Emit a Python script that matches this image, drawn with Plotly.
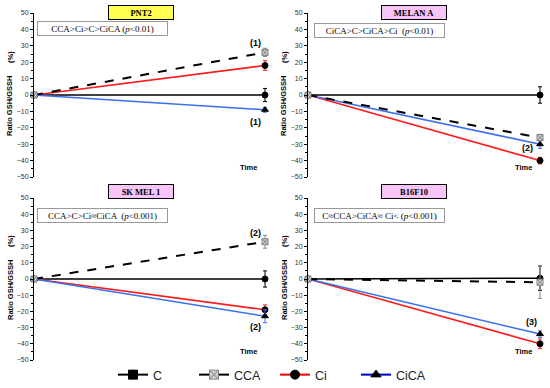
import plotly.graph_objects as go

W, H = 550, 388

panels = ["PNT2", "MELAN A", "SK MEL 1", "B16F10"]
time_points = [0, 1]
series = ["C", "CCA", "Ci", "CiCA"]

# end values (%) at "Time" for each panel (start is 0 for all)
C_end = [0, 0, 0, 0.5]
CCA_end = [26, -26, 23, -2]
Ci_end = [18, -40, -19, -40]
CiCA_end = [-9, -30, -23, -34]
C_err = [4, 5, 5, 7.5]
CCA_err = [2.5, 2, 4, 10]
Ci_err = [3, 2, 3, 3]
CiCA_err = [1.5, 2.5, 4, 2]

stat_texts = [
    "CCA>Ci>C>CiCA (<i>p</i><0.01)",
    "CiCA>C>CiCA>Ci  (<i>p</i><0.01)",
    "CCA>C>Ci≈CiCA  (<i>p</i><0.001)",
    "C≈CCA>CiCA≈ Ci< (<i>p</i><0.001)",
]
title_colors = ["#ffff4f", "#f6c4f6", "#f6c4f6", "#f6c4f6"]

# significance marks per panel: (x, y, text)
marks = [
    [(0.957, 31.5, "(1)"), (0.957, -16.5, "(1)")],
    [(0.944, -32.3, "(2)")],
    [(0.96, 28.4, "(2)"), (0.96, -29.6, "(2)")],
    [(0.965, -26.5, "(3)")],
]

y_ticks = [-50, -40, -30, -20, -10, 0, 10, 20, 30, 40, 50]

# pixel layout
xpx = [(34, 272), (308, 547)]
ypx = [(13, 177), (198, 360)]

def px_x(p):
    return p / W

def px_y(p):
    return 1 - p / H

styles = {
    "C": dict(color="black", dash="solid", width=1.6, symbol="circle", mcolor="black", mline="black", size=6),
    "CCA": dict(color="black", dash="dash", width=2, symbol="square-x", mcolor="#d0d0d0", mline="#808080", size=6),
    "Ci": dict(color="#ff1a1a", dash="solid", width=1.6, symbol="circle", mcolor="black", mline="black", size=6),
    "CiCA": dict(color="#3a6ff0", dash="solid", width=1.6, symbol="triangle-up", mcolor="black", mline="black", size=6),
}
ends = {"C": C_end, "CCA": CCA_end, "Ci": Ci_end, "CiCA": CiCA_end}
errs = {"C": C_err, "CCA": CCA_err, "Ci": Ci_err, "CiCA": CiCA_err}
err_colors = {"C": "black", "CCA": "#888888", "Ci": "#ff1a1a", "CiCA": "#3a6ff0"}

fig = go.Figure()
layout = {}
annotations = []
font_sans = "Liberation Sans, Arial, sans-serif"
font_serif = "Liberation Serif, Times New Roman, serif"

def paper_ann(xp, yp, text, **kw):
    d = dict(xref="paper", yref="paper", x=px_x(xp), y=px_y(yp), text=text,
             showarrow=False, xanchor="center", yanchor="middle")
    d.update(kw)
    return d

for i, name in enumerate(panels):
    col = i % 2
    row = i // 2
    k = "" if i == 0 else str(i + 1)
    xa, ya = "x" + k, "y" + k
    x0, x1 = xpx[col]
    y0, y1 = ypx[row]
    xmax = (x1 - x0) / (x1 - 7 - x0)
    layout["xaxis" + k] = dict(domain=[px_x(x0), px_x(x1)], range=[0, xmax], autorange=False,
                               visible=False, automargin=False, anchor=ya, fixedrange=True)
    layout["yaxis" + k] = dict(domain=[px_y(y1), px_y(y0)], range=[-50, 50], autorange=False,
                               anchor=xa, automargin=False,
                               showline=True, linecolor="black", linewidth=1,
                               showgrid=False, zeroline=False, tickvals=y_ticks,
                               ticks="outside", ticklen=3, tickwidth=1, tickcolor="black",
                               minor=dict(dtick=5, ticks="outside", ticklen=2, tickcolor="black"),
                               tickfont=dict(size=7, family=font_sans, color="#333"),
                               fixedrange=True)
    for s in ["C", "Ci", "CiCA", "CCA"]:
        st = styles[s]
        fig.add_trace(go.Scatter(
            x=time_points, y=[0, ends[s][i]], xaxis=xa, yaxis=ya, mode="lines+markers",
            line=dict(color=st["color"], dash=st["dash"], width=st["width"]),
            marker=dict(symbol=st["symbol"], color=st["mcolor"], size=st["size"],
                        line=dict(color=st["mline"], width=1)),
            error_y=dict(type="data", array=[0, errs[s][i]], color=err_colors[s],
                         thickness=1, width=2),
            showlegend=False, hoverinfo="skip", cliponaxis=False))
    # title box
    annotations.append(paper_ann(141 if col == 0 else 414, 12 if row == 0 else 191,
                                 "<b>" + name + "</b>",
                                 font=dict(family=font_serif, size=8.5, color="black"),
                                 bgcolor=title_colors[i], bordercolor="black", borderwidth=1,
                                 borderpad=1, width=62, height=11))
    # stat box
    annotations.append(paper_ann(102 if col == 0 else 379,
                                 (29 if col == 0 else 31) if row == 0 else 215,
                                 stat_texts[i],
                                 font=dict(family=font_serif, size=9, color="black"),
                                 bgcolor="white", bordercolor="#999", borderwidth=1,
                                 borderpad=1, width=127, height=11))
    for (mx, my, mt) in marks[i]:
        annotations.append(dict(xref=xa, yref=ya, x=mx, y=my, text="<b>" + mt + "</b>",
                                showarrow=False, xanchor="center", yanchor="middle",
                                font=dict(family=font_sans, size=9, color="black")))
    annotations.append(dict(xref=xa, yref=ya, x=0.93, y=(-44 if row == 0 else -45),
                            text="<b>Time</b>", showarrow=False, xanchor="center", yanchor="middle",
                            font=dict(family=font_sans, size=7.5, color="black")))
    zero_px = (y0 + y1) / 2
    annotations.append(paper_ann(x0 - 24, zero_px + 11, "<b>Ratio GSH/GSSH</b>", textangle=-90,
                                 font=dict(family=font_sans, size=7.5, color="black")))
    annotations.append(paper_ann(x0 - 24, zero_px - 38, "<b>(%)</b>", textangle=-90,
                                 font=dict(family=font_sans, size=7.5, color="black")))

# legend-only traces
for s in series:
    st = styles[s]
    fig.add_trace(go.Scatter(
        x=[None], y=[None], mode="lines+markers", name=s,
        line=dict(color={"C": "black", "CCA": "black", "Ci": "#ff0000", "CiCA": "#0000cc"}[s], width=2),
        marker=dict(symbol={"C": "square", "CCA": "square-x", "Ci": "circle", "CiCA": "triangle-up"}[s],
                    color=st["mcolor"], size=9, line=dict(color=st["mline"], width=1))))

fig.update_layout(
    width=W, height=H, margin=dict(l=0, r=0, t=0, b=0, autoexpand=False),
    paper_bgcolor="white", plot_bgcolor="rgba(0,0,0,0)",
    showlegend=True,
    legend=dict(orientation="h", x=0.5, xanchor="center", y=px_y(375), yanchor="middle",
                font=dict(family=font_sans, size=12.5, color="#222"), entrywidth=36,
                bgcolor="rgba(0,0,0,0)"),
    annotations=annotations,
    **layout,
)

fig.write_html("out.html", config={"displayModeBar": False},
               post_script="document.body.style.margin='0';document.body.style.overflow='hidden';")
